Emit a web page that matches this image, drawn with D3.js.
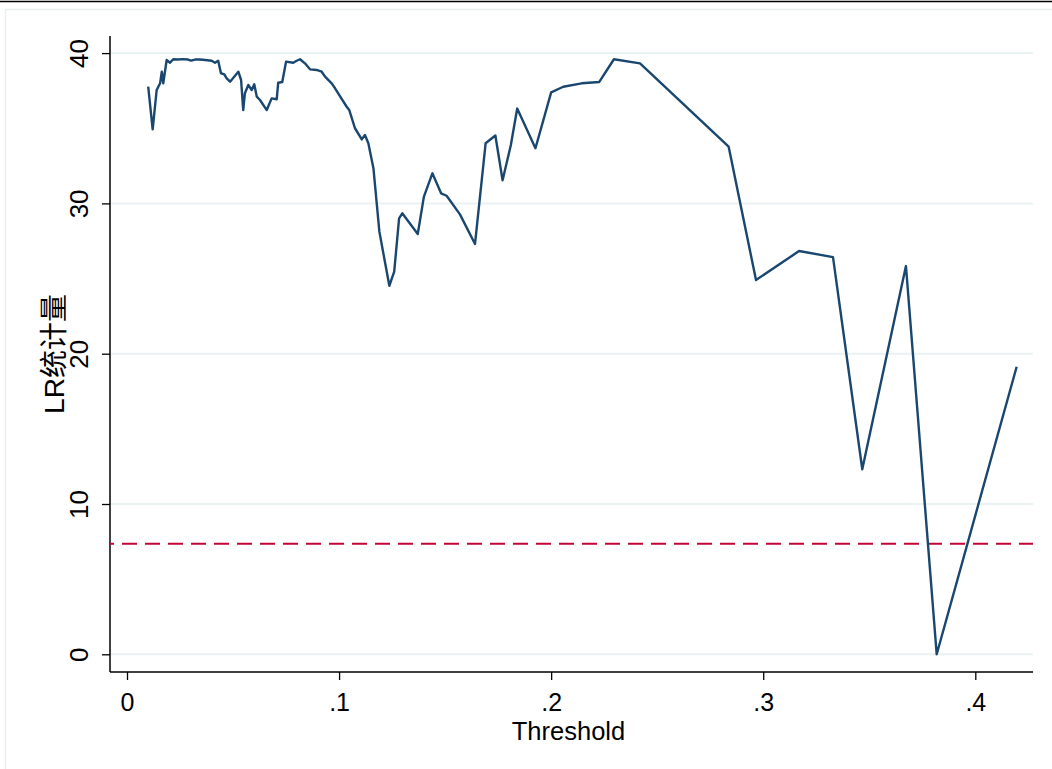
<!DOCTYPE html>
<html>
<head>
<meta charset="utf-8">
<script src="https://cdn.jsdelivr.net/npm/d3@7"></script>
<style>
  html, body { margin: 0; padding: 0; background: #ffffff; }
  svg { display: block; }
  text { font-family: "Liberation Sans", Arial, "Noto Sans CJK SC", sans-serif; fill: #000; }
</style>
</head>
<body>
<svg id="chart" width="1052" height="769"></svg>
<script>
// Threshold grid and the LR statistic computed at each candidate threshold
const threshold = [
  0.0100, 0.0121, 0.0140, 0.0156, 0.0164, 0.0171, 0.0187, 0.0203, 0.0218,
  0.0240, 0.0264, 0.0288, 0.0302, 0.0321, 0.0344, 0.0368, 0.0399, 0.0415,
  0.0430, 0.0443, 0.0459, 0.0470, 0.0486, 0.0525, 0.0538, 0.0548, 0.0556,
  0.0572, 0.0588, 0.0600, 0.0612, 0.0627, 0.0659, 0.0682, 0.0706, 0.0713,
  0.0732, 0.0750, 0.0784, 0.0800, 0.0816, 0.0839, 0.0863, 0.0894, 0.0918,
  0.0934, 0.0965, 0.0981, 0.1001, 0.1036, 0.1048, 0.1075, 0.1107, 0.1122,
  0.1138, 0.1162, 0.1190, 0.1237, 0.1260, 0.1283, 0.1298, 0.1371, 0.1400,
  0.1440, 0.1481, 0.1507, 0.1570, 0.1641, 0.1691, 0.1737, 0.1771, 0.1810,
  0.1840, 0.1926, 0.2000, 0.2057, 0.2144, 0.2227, 0.2296, 0.2419, 0.2837,
  0.2966, 0.3169, 0.3329, 0.3467, 0.3673, 0.3818, 0.4195
];
const lrStat = [
  37.77, 34.93, 37.55, 37.99, 38.76, 37.99, 39.54, 39.36, 39.59,
  39.57, 39.60, 39.57, 39.50, 39.57, 39.57, 39.54, 39.49, 39.36,
  39.49, 38.66, 38.59, 38.32, 38.10, 38.76, 38.21, 36.21, 37.33,
  37.88, 37.54, 37.92, 37.10, 36.88, 36.21, 36.99, 36.93, 38.03,
  38.08, 39.43, 39.36, 39.49, 39.59, 39.32, 38.92, 38.88, 38.76,
  38.43, 37.99, 37.66, 37.21, 36.43, 36.21, 35.00, 34.26, 34.55,
  34.00, 32.34, 28.12, 24.52, 25.46, 29.01, 29.34, 27.96, 30.45,
  32.00, 30.67, 30.51, 29.27, 27.30, 34.00, 34.52, 31.54, 33.89,
  36.31, 33.67, 37.39, 37.76, 37.99, 38.08, 39.59, 39.32, 33.77,
  24.90, 26.83, 26.43, 12.31, 25.83, 0.00, 19.13
];
// 5% critical value of the LR statistic
const criticalValue = 7.35;

const xTicks = [0, 0.1, 0.2, 0.3, 0.4];
const xTickLabels = ["0", ".1", ".2", ".3", ".4"];
const yTicks = [0, 10, 20, 30, 40];
const yTickLabels = ["0", "10", "20", "30", "40"];
const xTitle = "Threshold";
const yTitle = "LR统计量";

const svg = d3.select("#chart");
const W = 1052, H = 769;

// Plot region edges
const plot = { left: 110, right: 1033, top: 36, bottom: 672 };

const x = d3.scaleLinear().domain([0, 0.4]).range([127, 975.3]);
const y = d3.scaleLinear().domain([0, 40]).range([654.3, 53.1]);

// Outer frame
svg.append("line")
  .attr("x1", 0).attr("x2", W).attr("y1", 1.5).attr("y2", 1.5)
  .attr("stroke", "#000").attr("stroke-width", 1.5);
svg.append("rect")
  .attr("x", 5.5).attr("y", 9.5).attr("width", W).attr("height", H)
  .attr("fill", "none").attr("stroke", "#e9efef").attr("stroke-width", 1.5);

// Horizontal grid lines
svg.append("g")
  .selectAll("line")
  .data(yTicks)
  .join("line")
  .attr("x1", plot.left).attr("x2", plot.right)
  .attr("y1", d => y(d)).attr("y2", d => y(d))
  .attr("stroke", "#eaf2f3").attr("stroke-width", 2);

// Y axis
const yAxis = d3.axisLeft(y)
  .tickValues(yTicks)
  .tickFormat((d, i) => yTickLabels[i])
  .tickSize(8)
  .tickPadding(0);
const gy = svg.append("g").attr("transform", `translate(${plot.left},0)`).call(yAxis);
gy.select(".domain").remove();
gy.selectAll(".tick line").attr("stroke", "#000").attr("stroke-width", 1.3);
gy.selectAll(".tick text")
  .attr("x", 0).attr("y", 0).attr("dy", null)
  .attr("text-anchor", "middle")
  .attr("font-size", 26)
  .attr("transform", "translate(-22,0) rotate(-90)");
svg.append("line")
  .attr("x1", plot.left).attr("x2", plot.left)
  .attr("y1", plot.top).attr("y2", plot.bottom)
  .attr("stroke", "#000").attr("stroke-width", 1.5);

// X axis
const xAxis = d3.axisBottom(x)
  .tickValues(xTicks)
  .tickFormat((d, i) => xTickLabels[i])
  .tickSize(8)
  .tickPadding(0);
const gx = svg.append("g").attr("transform", `translate(0,${plot.bottom})`).call(xAxis);
gx.select(".domain").remove();
gx.selectAll(".tick line").attr("stroke", "#000").attr("stroke-width", 1.3);
gx.selectAll(".tick text")
  .attr("y", 39).attr("dy", null)
  .attr("font-size", 25);
svg.append("line")
  .attr("x1", plot.left).attr("x2", plot.right)
  .attr("y1", plot.bottom).attr("y2", plot.bottom)
  .attr("stroke", "#000").attr("stroke-width", 1.5);

// Critical value reference line
svg.append("line")
  .attr("x1", plot.left).attr("x2", plot.right)
  .attr("y1", y(criticalValue)).attr("y2", y(criticalValue))
  .attr("stroke", "#c10534").attr("stroke-width", 2)
  .attr("stroke-dasharray", "15 8")
  .attr("stroke-dashoffset", -12);

// LR statistic curve
const pts = threshold.map((t, i) => [t, lrStat[i]]);
svg.append("path")
  .datum(pts)
  .attr("fill", "none")
  .attr("stroke", "#1a476f")
  .attr("stroke-width", 2.4)
  .attr("stroke-linejoin", "round")
  .attr("d", d3.line().x(d => x(d[0])).y(d => y(d[1])));

// Axis titles
svg.append("text")
  .attr("x", (plot.left + plot.right) / 2 - 3).attr("y", 740)
  .attr("text-anchor", "middle")
  .attr("font-size", 25.5)
  .text(xTitle);
svg.append("text")
  .attr("text-anchor", "middle")
  .attr("font-size", 28)
  .attr("transform", `translate(64,${(plot.top + plot.bottom) / 2}) rotate(-90)`)
  .text(yTitle);
</script>
</body>
</html>
